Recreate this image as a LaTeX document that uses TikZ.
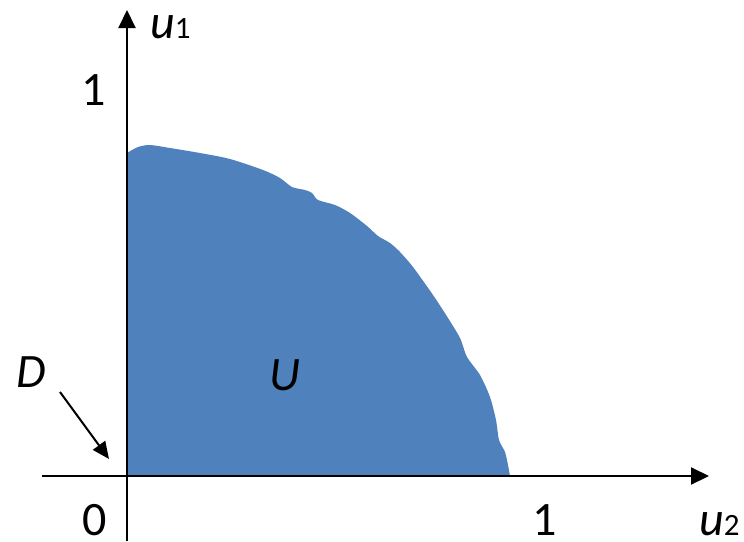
\documentclass[tikz,border=0pt]{standalone}
\usepackage{fontspec}
\setmainfont{Carlito}
\usetikzlibrary{arrows.meta}
\definecolor{blobblue}{HTML}{4F81BD}
\tikzset{
  axis/.style={line width=2pt, -{Triangle[length=18pt,width=17pt]}},
  pointer/.style={line width=2pt, -{Triangle[length=17pt,width=15pt]}},
  big/.style={font=\fontsize{48}{48}\selectfont, inner sep=0pt},
}
\newcommand{\bigu}{{\fontsize{48}{48}\selectfont\itshape u}}
\newcommand{\smalldig}[1]{{\fontsize{31}{31}\selectfont #1}}
\begin{document}
\begin{tikzpicture}[x=1pt,y=-1pt]
\useasboundingbox (0,0) rectangle (744,541);
% region U
\fill[blobblue] (127,476) -- (127,153)
  -- plot[smooth, tension=0.45] coordinates {
   (127,153) (138,147) (150,145) (170,148) (200,153) (230,159) (263,170)
   (280,178) (292,187) (305,190) (312,193) (318,200) (335,205) (350,213)
   (367,226) (378,236) (390,243) (400,252) (413,267) (433,295) (448,318)
   (460,338) (467,357) (480,375) (490,397) (496,420) (499,440) (505,452)
   (508,465) (510,476)} -- cycle;
% axes
\coordinate (O) at (127,476);
\coordinate (ybot) at (127,541);
\coordinate (ytip) at (127,10);
\coordinate (xleft) at (42,476);
\coordinate (xtip) at (709,476);
\draw[axis] (ybot) -- (ytip);
\draw[axis] (xleft) -- (xtip);
% labels
\node[big, anchor=base west] (u1) at (150,38) {\bigu\smalldig{1}};
\node[big, anchor=base west] (u2) at (699,535) {\bigu\smalldig{2}};
\node[big, anchor=base] (one1) at (94,105) {1};
\node[big, anchor=base] (zero) at (95,535) {0};
\node[big, anchor=base] (one2) at (545,535) {1};
\node[big, anchor=base] (U) at (285,390) {\itshape U};
\node[big, anchor=base west] (D) at (16,387) {\itshape D};
\coordinate (Dtip) at (109,459);
\draw[pointer] (60,392) -- (Dtip);
\end{tikzpicture}
\end{document}
